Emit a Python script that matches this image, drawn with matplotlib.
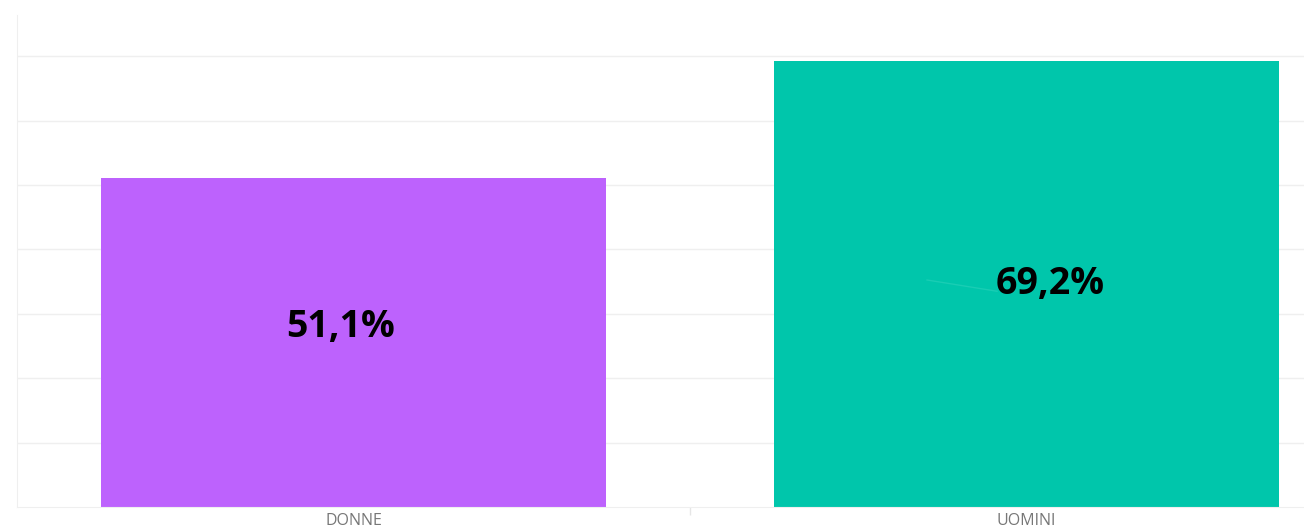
import matplotlib.pyplot as plt

categories = ['DONNE', 'UOMINI']
values = [51.1, 69.2]
labels = ['51,1%', '69,2%']
colors = ['#BD62FD', '#00C6AB']

plt.rcParams['font.family'] = ['Open Sans', 'DejaVu Sans']

fig = plt.figure(figsize=(13.04, 5.32), dpi=100)
ax = fig.add_axes([17/1304, 25/532, 1 - 17/1304, (507-15)/532])

x = list(range(len(categories)))
ax.bar(x, values, width=0.75, color=colors, zorder=2)

# label placement (data units)
label_x = [-0.02, 1.035]
label_y = [28.0, 34.6]
for lx, ly, lab in zip(label_x, label_y, labels):
    ax.text(lx, ly, lab, ha='center', va='center', fontsize=27,
            fontweight='bold', color='black', zorder=3)

# faint leader line inside the second bar
ax.plot([0.852, 0.956], [35.25, 33.5], color='#19CDB4', lw=1, zorder=2.5)

ax.set_xlim(-0.5, 1.412)
ax.set_ylim(0, 76.4)
ax.set_yticks([10, 20, 30, 40, 50, 60, 70])
ax.yaxis.grid(True, color='#EFEFEF', lw=1, zorder=0)
ax.tick_params(axis='y', left=False, labelleft=False)

ax.set_xticks(x)
ax.set_xticklabels(categories, fontsize=11.5, color='#777777')
ax.set_xticks([0.5], minor=True)
ax.tick_params(axis='x', which='major', length=0, pad=4)
ax.tick_params(axis='x', which='minor', length=6, color='#E6E6E6', width=1)

for s in ['top', 'right']:
    ax.spines[s].set_visible(False)
ax.spines['left'].set_color('#EFEFEF')
ax.spines['bottom'].set_color('#EFEFEF')

fig.savefig('out.png', dpi=100, facecolor='white')
